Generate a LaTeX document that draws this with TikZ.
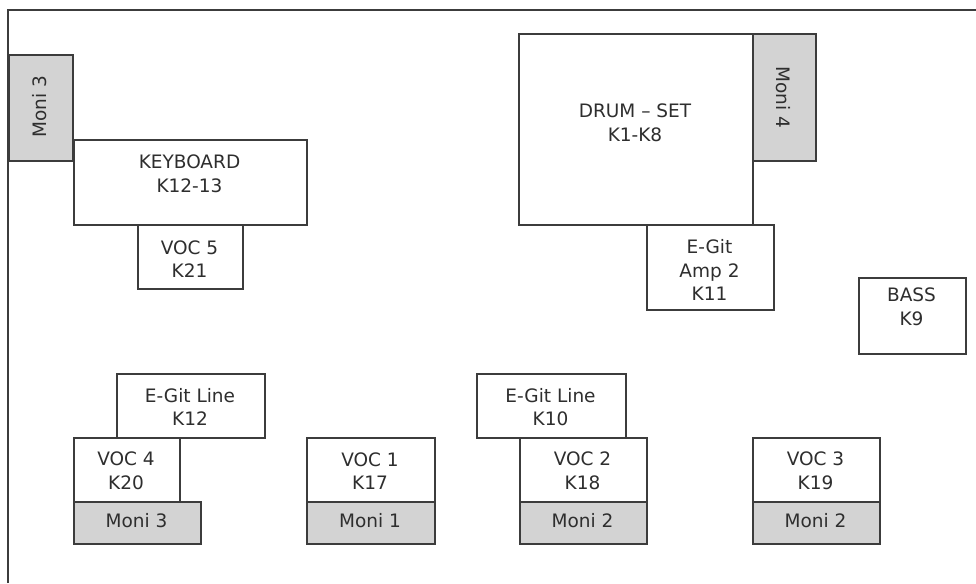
\documentclass[tikz,border=0pt]{standalone}
\usepackage{fontspec}
\setmainfont{DejaVu Sans}
\usetikzlibrary{calc}
\definecolor{edge}{HTML}{3C3C3C}
\definecolor{ink}{HTML}{2E2E2E}
\definecolor{moni}{HTML}{D3D3D3}
\begin{document}
\begin{tikzpicture}[x=1pt,y=-1pt,
  box/.style={draw=edge,line width=2pt,fill=white,rectangle,inner sep=0pt,anchor=north west},
  gbox/.style={box,fill=moni},
  txt/.style={text=ink,font=\fontsize{18.5}{23.5}\selectfont,align=center,inner sep=0pt}]
\useasboundingbox (0,0) rectangle (976,583);
\coordinate (fa) at (8,583);
\coordinate (fb) at (8,10);
\coordinate (fc) at (980,10);
\draw[edge,line width=2pt] (fa) -- (fb) -- (fc);
% keyboard group
\node[box,minimum width=233,minimum height=85] (kb) at (73,139) {};
\node[gbox,minimum width=64,minimum height=106] (m3a) at (8,54) {};
\node[box,minimum width=105,minimum height=64] (v5) at (137,224) {};
\node[txt] (kbt) at (189.5,174) {KEYBOARD\\K12-13};
\node[txt,rotate=90] (m3at) at (40,107) {Moni 3};
\node[txt] (v5t) at (189.5,259) {VOC 5\\K21};
% drum group
\node[box,minimum width=234,minimum height=191] (dr) at (518,33) {};
\node[gbox,minimum width=63,minimum height=127] (m4) at (752,33) {};
\node[box,minimum width=127,minimum height=85] (amp) at (646,224) {};
\node[txt] (drt) at (635,123) {DRUM – SET\\K1-K8};
\node[txt,rotate=-90] (m4t) at (783.5,97) {Moni 4};
\node[txt] (ampt) at (709.5,270) {E-Git\\Amp 2\\K11};
% bass
\node[box,minimum width=107,minimum height=76] (bass) at (858,277) {};
\node[txt] (basst) at (911.5,307) {BASS\\K9};
% front left
\node[box,minimum width=148,minimum height=64] (egl1) at (116,373) {};
\node[box,minimum width=106,minimum height=64] (v4) at (73,437) {};
\node[gbox,minimum width=127,minimum height=42] (m3b) at (73,501) {};
\node[txt] (egl1t) at (190,407) {E-Git Line\\K12};
\node[txt] (v4t) at (126,471) {VOC 4\\K20};
\node[txt] (m3bt) at (136.5,521) {Moni 3};
% voc1
\node[box,minimum width=128,minimum height=64] (v1) at (306,437) {};
\node[gbox,minimum width=128,minimum height=42] (m1) at (306,501) {};
\node[txt] (v1t) at (370,471) {VOC 1\\K17};
\node[txt] (m1t) at (370,521) {Moni 1};
% voc2
\node[box,minimum width=149,minimum height=64] (egl2) at (476,373) {};
\node[box,minimum width=127,minimum height=64] (v2) at (519,437) {};
\node[gbox,minimum width=127,minimum height=42] (m2a) at (519,501) {};
\node[txt] (egl2t) at (550.5,407) {E-Git Line\\K10};
\node[txt] (v2t) at (582.5,471) {VOC 2\\K18};
\node[txt] (m2at) at (582.5,521) {Moni 2};
% voc3
\node[box,minimum width=127,minimum height=64] (v3) at (752,437) {};
\node[gbox,minimum width=127,minimum height=42] (m2b) at (752,501) {};
\node[txt] (v3t) at (815.5,471) {VOC 3\\K19};
\node[txt] (m2bt) at (815.5,521) {Moni 2};
\end{tikzpicture}
\end{document}
